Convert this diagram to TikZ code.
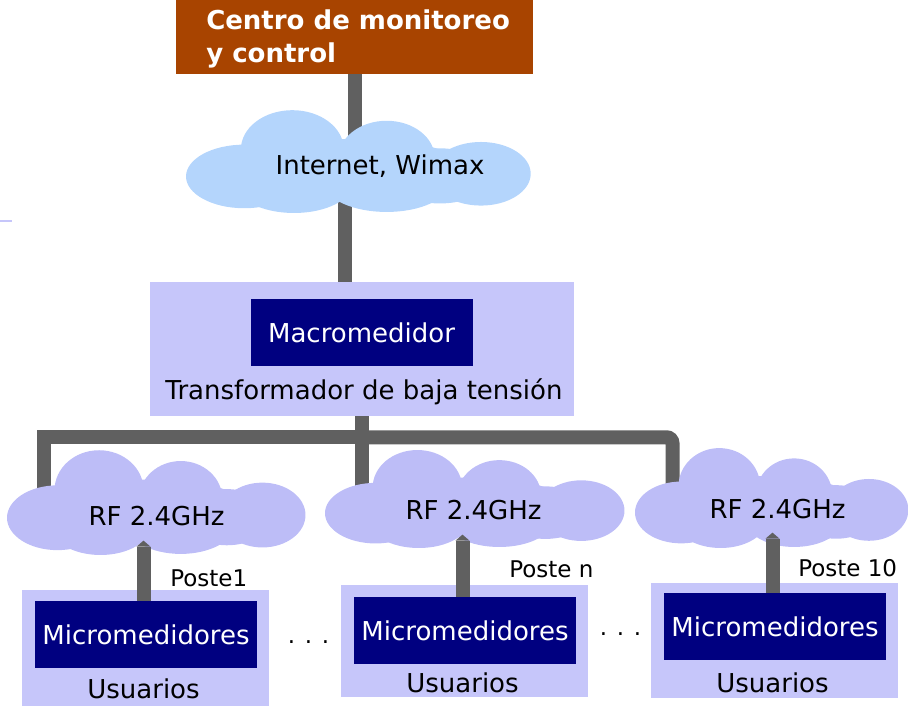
\documentclass[tikz,border=0pt]{standalone}
\usepackage{fontspec}
\setmainfont{DejaVu Sans}
\usetikzlibrary{calc,arrows.meta}
\definecolor{marron}{RGB}{168,68,0}
\definecolor{celeste}{RGB}{180,213,252}
\definecolor{nubelila}{RGB}{189,189,247}
\definecolor{lavanda}{RGB}{198,198,250}
\definecolor{azulmarino}{RGB}{0,0,128}
\definecolor{gris}{RGB}{96,96,96}
\def\px{0.75pt}
\def\letra{\fontsize{19.5}{24.75}\selectfont}
\def\letrachica{\fontsize{17.25}{21}\selectfont}
\def\nube[#1](#2)(#3:#4){\begin{scope}[shift={(#2)},xscale=#3,yscale=#4]
	\fill[#1] (-0.66,0.31) ellipse [x radius=0.34, y radius=0.6];
	\fill[#1] (-0.38,-0.2) ellipse [x radius=0.3, y radius=0.74];
	\fill[#1] (0.17,-0.04) ellipse [x radius=0.28, y radius=0.7];
	\fill[#1] (0.72,0.26) ellipse [x radius=0.29, y radius=0.6];
	\fill[#1] (-0.37,0.44) ellipse [x radius=0.34, y radius=0.56];
	\fill[#1] (0.17,0.44) ellipse [x radius=0.36, y radius=0.54];
	\fill[#1] (0.48,0.3) ellipse [x radius=0.3, y radius=0.52];
	\fill[#1] (0,0.15) ellipse [x radius=0.62, y radius=0.55];
	\end{scope}}

\begin{document}
\begin{tikzpicture}[x=0.75pt, y=-0.75pt, font=\letra,
	bus/.style={draw=gris, line width=14*\px},
	punta/.style={-{Triangle[length=6*\px, width=14*\px, line width=0pt]}},
	caja/.style={fill=lavanda, inner sep=0pt},
	medidor/.style={fill=azulmarino, text=white, inner sep=0pt, minimum width=222*\px, minimum height=67*\px},
	rf/.style={anchor=base, inner xsep=0pt, inner ysep=14*\px},
	poste/.style={anchor=base west, inner sep=0pt, font=\letrachica}]
	%%%%% START %%%%%
	
	\useasboundingbox (0,0) rectangle (908,709);
	\draw[lavanda, line width=1.5*\px] (0,221) -- (12,221);
	
	\node[fill=marron, inner sep=0pt, minimum width=357*\px, minimum height=74*\px] (centro) at (354.5,37) {};
	\node[text=white, font=\letra\bfseries, align=left, anchor=north west, inner sep=0pt] (centrotxt) at (206,9) {Centro de monitoreo\\y control};
	
	\node[caja, minimum width=424*\px, minimum height=134*\px] (trafo) at (362,349) {};
	\node[medidor] (macro) at (361.5,332.5) {Macromedidor};
	\node[anchor=base, inner sep=0pt] (trafotxt) at (364,400) {Transformador de baja tensión};
	
	\coordinate (nubeinet) at (357.5,160);
	\coordinate (nube1) at (155.5,501);
	\coordinate (nube2) at (474,497.5);
	\coordinate (nube3) at (771,496.5);
	\coordinate (union) at ($(trafo.south)+(0,21)$);
	\coordinate (bajada1) at (43.5,495);
	\coordinate (bajada2) at (362,490);
	\coordinate (bajada3) at (672.5,490);
	
	\draw[bus] (centro.south) -- (centro.south |- nubeinet);
	\draw[bus] ($(trafo.north)+(-17.5,0)$) -- ($(nubeinet)+(-13,0)$);
	\draw[bus] (trafo.south) -- (union);
	\draw[bus] (bajada1) |- (union) -- (bajada2);
	\draw[bus, rounded corners=6*\px] (union) -| (bajada3);
	
	\nube[celeste](nubeinet)(171.5:53)
	\nube[nubelila](nube1)(148.5:54)
	\nube[nubelila](nube2)(149:50.5)
	\nube[nubelila](nube3)(136:51.5)
	
	\node[anchor=base] (inet) at (380,175) {Internet, Wimax};
	\node[rf] (rf1) at (156.5,526) {RF 2.4GHz};
	\node[rf] (rf2) at (473.5,520) {RF 2.4GHz};
	\node[rf] (rf3) at (777.5,518) {RF 2.4GHz};
	
	\node[caja, minimum width=247*\px, minimum height=116*\px] (usu1) at (145.5,648) {};
	\node[caja, minimum width=247*\px, minimum height=112*\px] (usu2) at (464.5,641) {};
	\node[caja, minimum width=247*\px, minimum height=115*\px] (usu3) at (774.5,640.5) {};
	
	\node[medidor] (micro1) at (146,634.5) {Micromedidores};
	\node[medidor] (micro2) at (465,630.5) {Micromedidores};
	\node[medidor] (micro3) at (775,626.5) {Micromedidores};
	
	\node[anchor=base, inner sep=0pt] (usutxt1) at (143.5,698) {Usuarios};
	\node[anchor=base, inner sep=0pt] (usutxt2) at (462.5,692) {Usuarios};
	\node[anchor=base, inner sep=0pt] (usutxt3) at (772.5,692) {Usuarios};
	
	\draw[bus, punta] ([xshift=-2.5*\px]micro1.north) -- ([xshift=-2.5*\px]micro1.north |- rf1.south);
	\draw[bus, punta] ([xshift=-2.5*\px]micro2.north) -- ([xshift=-2.5*\px]micro2.north |- rf2.south);
	\draw[bus, punta] ([xshift=-2.5*\px]micro3.north) -- ([xshift=-2.5*\px]micro3.north |- rf3.south);
	
	\node[poste] (poste1) at (170,586) {Poste1};
	\node[poste] (posten) at (509,577) {Poste n};
	\node[poste] (poste10) at (798,576) {Poste 10};
	
	\node[poste] (puntos1) at (287.5,643) {. . .};
	\node[poste] (puntos2) at (599.5,635) {. . .};
	
	%%%%% END %%%%%
\end{tikzpicture}
\end{document}
